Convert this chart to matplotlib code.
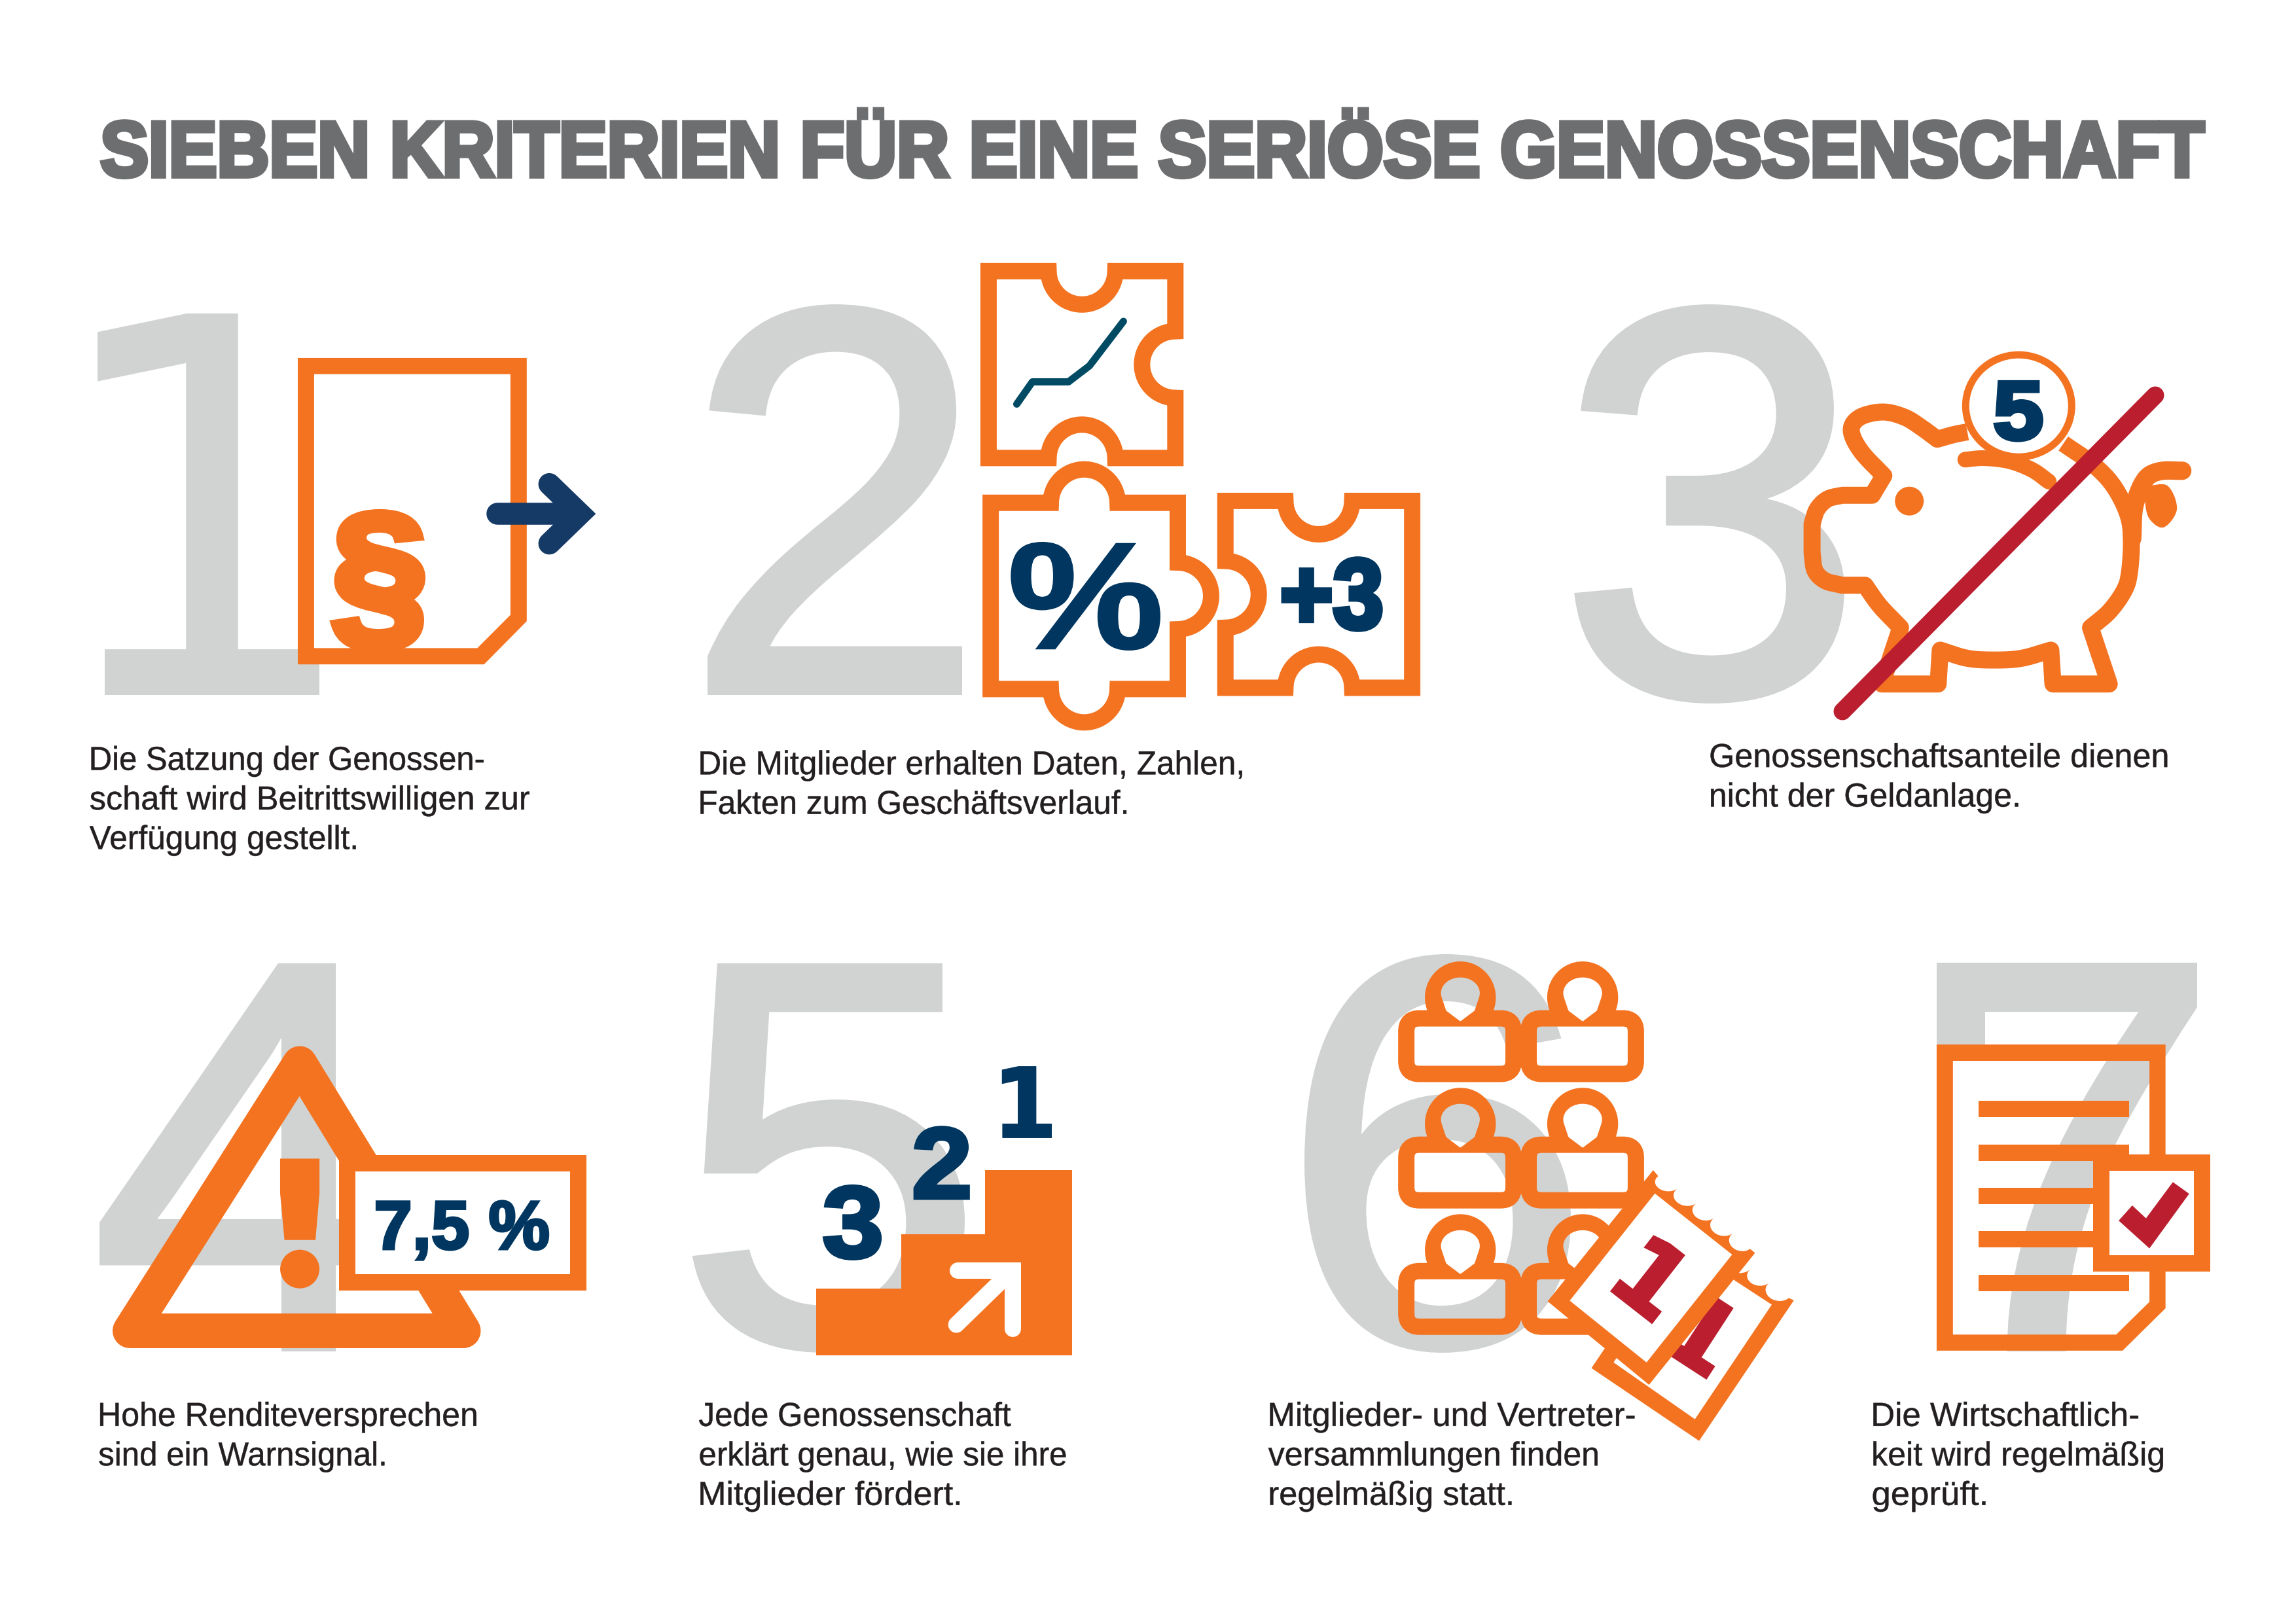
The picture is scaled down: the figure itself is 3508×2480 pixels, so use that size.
import numpy as np
import matplotlib
matplotlib.use("Agg")
import matplotlib.pyplot as plt
from matplotlib.font_manager import FontProperties
from matplotlib.textpath import TextPath
from matplotlib.path import Path
from matplotlib.patches import PathPatch, Polygon, Rectangle, Ellipse, FancyBboxPatch
from matplotlib.lines import Line2D
from matplotlib.transforms import Affine2D
from matplotlib.patheffects import AbstractPathEffect

W, H, DPI = 3508, 2480, 100
U = W / 1568.0
ORANGE = "#f47321"; GREY = "#d1d3d2"; NAVY = "#00365f"; ARROW = "#153a66"
RED = "#bb1f2f"; TITLEC = "#6d6e70"; BODY = "#231f20"; TEAL = "#004a63"

TITLE = "SIEBEN KRITERIEN FÜR EINE SERIÖSE GENOSSENSCHAFT"
CAP_X = [61, 477, 1167, 67, 477, 866, 1278]
CAPTIONS = [
    [("Die Satzung der Genossen-", 329, 526), ("schaft wird Beitrittswilligen zur", 361, 553), ("Verfügung gestellt.", 243, 580)],
    [("Die Mitglieder erhalten Daten, Zahlen,", 847, 529), ("Fakten zum Geschäftsverlauf.", 768, 556)],
    [("Genossenschaftsanteile dienen", 1479, 524), ("nicht der Geldanlage.", 1377, 551)],
    [("Hohe Renditeversprechen", 324, 974), ("sind ein Warnsignal.", 262, 1001)],
    [("Jede Genossenschaft", 690, 974), ("erklärt genau, wie sie ihre", 727, 1001), ("Mitglieder fördert.", 654, 1028)],
    [("Mitglieder- und Vertreter-", 1115, 974), ("versammlungen finden", 1091, 1001), ("regelmäßig statt.", 1031, 1028)],
    [("Die Wirtschaftlich-", 1459, 974), ("keit wird regelmäßig", 1476, 1001), ("geprüft.", 1355, 1028)],
]
DIGITS = ["1", "2", "3", "4", "5", "6", "7"]
DIGIT_BOX = [(149, 479, 488, 1062), (1081, 465, 1470, 1062), (2406, 465, 2818, 1075),
             (152, 1472, 596, 2065), (1059, 1472, 1474, 2067), (1993, 1458, 2400, 2067),
             (2959, 1471, 3357, 2065)]
DIGIT_WEIGHT = [4, 12, 12, 12, 12, 12, 12]

fig = plt.figure(figsize=(W / DPI, H / DPI), dpi=DPI, facecolor="white")
ax = fig.add_axes([0, 0, 1, 1])
ax.set_xlim(0, W); ax.set_ylim(H, 0); ax.axis("off")


class Fit(AbstractPathEffect):
    """Draws the text's outline stretched vertically and, if asked, thickened."""
    def __init__(self, sy=1.0, lw=0.0):
        super().__init__()
        self.sy, self.lw = sy, lw

    def draw_path(self, renderer, gc, tpath, affine, rgbFace=None):
        a = Affine2D().scale(1.0, self.sy) + affine
        g = renderer.new_gc(); g.copy_properties(gc)
        if self.lw > 0:
            g.set_foreground(rgbFace); g.set_linewidth(self.lw); g.set_joinstyle("miter")
        renderer.draw_path(g, tpath, a, rgbFace)
        g.restore()


def fp(family, weight="normal"):
    return FontProperties(family=family, weight=weight)


def put(x, y, s, family, weight, color, size_px, z, sx, lw):
    # nominal size follows the width, the path effect restores the height
    return ax.text(x, y, s, family=family, weight=weight, color=color,
                   fontsize=size_px * sx * 72 / DPI, ha="left", va="baseline", zorder=z,
                   path_effects=[Fit(1.0 / sx, lw * 72 / DPI)])


def fit(s, box, family="Liberation Sans", weight="normal", color=GREY, z=1, lw=0.0):
    x0, y0, x1, y1 = box
    x0 += lw / 2; x1 -= lw / 2; y0 += lw / 2; y1 -= lw / 2
    e = TextPath((0, 0), s, size=100, prop=fp(family, weight)).get_extents()
    px = (y1 - y0) / e.height
    sx = (x1 - x0) / (e.width * px)
    put(x0 - e.x0 * px * sx, y1 + e.y0 * px, s, family, weight, color, 100 * px, z, sx, lw)


def line(s, x0, x1, base, cap, family="Liberation Sans", weight="normal", color=BODY, z=5, lw=0.0):
    tp = fp(family, weight)
    h = TextPath((0, 0), "H", size=100, prop=tp).get_extents().height
    e = TextPath((0, 0), s, size=100, prop=tp).get_extents()
    px = (cap - lw) / h
    sx = (x1 - x0 - lw) / (e.width * px)
    bear = e.x0 * px * sx
    put(x0 + lw / 2 - bear + min(3.0, bear), base - lw / 2, s, family, weight, color, 100 * px, z, sx, lw)


def zm(x, y, w, h):
    sx, sy = 1568.0 / w, 1568.0 / h
    def f(pts):
        a = np.asarray(pts, float)
        return np.column_stack([x + a[..., 0] / sx, y + a[..., 1] / sy]) if a.ndim == 2 else np.array([x + a[0] / sx, y + a[1] / sy])
    return f


def pt(px):
    return px * 72.0 / DPI


def spline(p, n=14):
    p = np.asarray(p, float)
    if len(p) < 3:
        return p
    q = np.vstack([2 * p[0] - p[1], p, 2 * p[-1] - p[-2]])
    out = []
    for i in range(1, len(q) - 2):
        for t in np.linspace(0, 1, n, endpoint=False):
            a, b, c, d = q[i - 1], q[i], q[i + 1], q[i + 2]
            out.append(0.5 * ((2 * b) + (c - a) * t + (2 * a - 5 * b + 4 * c - d) * t ** 2 + (3 * b - a - 3 * c + d) * t ** 3))
    out.append(p[-1])
    return np.array(out)


def stroke(p, lw, color=ORANGE, z=3, join="miter", cap="butt"):
    p = np.asarray(p)
    ax.add_line(Line2D(p[:, 0], p[:, 1], color=color, lw=pt(lw), zorder=z, solid_joinstyle=join, solid_capstyle=cap))


def poly(p, color=ORANGE, z=3, edge=None, lw=0, join="miter"):
    ax.add_patch(Polygon(np.asarray(p), closed=True, facecolor=color, edgecolor=edge if edge else "none",
                         lw=pt(lw), zorder=z, joinstyle=join))


# ---------- title and captions
line(TITLE, 67 * U, 1505 * U, 122 * U, 40 * U, weight="bold", color=TITLEC, lw=7)
for x, rows in zip(CAP_X, CAPTIONS):
    for s, xr, b in rows:
        line(s, x * U, xr * U, b * U, 35.5, lw=0.5)

# ---------- big digits
for d, box, w in zip(DIGITS, DIGIT_BOX, DIGIT_WEIGHT):
    fit(d, box, family="DejaVu Sans" if d == "1" else "Liberation Sans", color=GREY, z=1, lw=w)
z4 = zm(2900, 1450, 550, 700)
a, b = z4([(168, 48), (378, 345)])
ax.add_patch(Rectangle(a, b[0] - a[0], b[1] - a[1], fc=GREY, ec="none", zorder=1))

# ---------- 1: document
z1 = zm(100, 380, 1150, 750)
poly(z1([(484, 349), (961, 349), (961, 1190), (872, 1328), (484, 1328), (484, 349),
         (518, 401), (518, 1276), (858, 1276), (927, 1170), (927, 401), (518, 401)]))
fit("§", (*z1((553, 832)), *z1((750, 1290))), weight="bold", color=ORANGE, z=3, lw=15)
stroke(z1([(900, 847), (1050, 847)]), 15 * U, color=ARROW, z=4, cap="round")
stroke(z1([(1008, 752), (1072, 847), (1008, 942)]), 15 * U, color=ARROW, z=4, join="miter", cap="round")

# ---------- 2: puzzle pieces
def semicircle(c, start, sweep, r):
    ang = np.radians(np.linspace(start, start + sweep, 40))
    return np.column_stack([c[0] + r * np.cos(ang), c[1] + r * np.sin(ang)])


def puzzle(x0, y0, x1, y1, top, right, bottom, left, r=51, lw=25):
    x0 += lw / 2; x1 -= lw / 2; y0 += lw / 2; y1 -= lw / 2
    mx, my = (x0 + x1) / 2, (y0 + y1) / 2
    P = [(x0, y0)]
    if top:
        P += list(semicircle((mx, y0), 180, 180 if top > 0 else -180, r))
    P.append((x1, y0))
    if right:
        P += list(semicircle((x1, my), -90, 180 if right > 0 else -180, r))
    P.append((x1, y1))
    if bottom:
        P += list(semicircle((mx, y1), 0, 180 if bottom > 0 else -180, r))
    P.append((x0, y1))
    if left:
        P += list(semicircle((x0, my), 90, 180 if left > 0 else -180, r))
    P = np.array(P)
    ax.add_patch(Polygon(P, closed=True, fill=False, edgecolor=ORANGE, lw=pt(lw), joinstyle="miter", zorder=3))


z5 = zm(1480, 390, 720, 740)
puzzle(*z5((39, 25)), *z5((715, 683)), -1, -1, -1, 0)
puzzle(*z5((46, 775)), *z5((723, 1431)), 1, 1, 1, 0)
puzzle(*z5((827, 769)), *z5((1503, 1427)), -1, 0, -1, -1)
stroke(z5([(160, 482), (212, 410), (332, 410), (402, 358), (515, 214)]), 11, color=TEAL, z=4, join="round", cap="round")
fit("%", (*z5((140, 928)), *z5((638, 1280))), weight="bold", color=NAVY, z=4, lw=3)
fit("+3", (*z5((1040, 975)), *z5((1378, 1220))), weight="bold", color=NAVY, z=4, lw=8)

# ---------- 3: piggy bank
z2 = zm(2400, 430, 1000, 700)
body_segments = [
    [(1180, 555), (1250, 625), (1300, 700), (1335, 800), (1343, 890), (1338, 1000), (1325, 1060), (1290, 1130), (1245, 1185)],
    [(1245, 1185), (1290, 1378)], [(1290, 1378), (1155, 1378)], [(1155, 1378), (1150, 1262)],
    [(1150, 1262), (1080, 1290), (1015, 1296), (950, 1290), (885, 1262)],
    [(885, 1262), (880, 1378)], [(880, 1378), (745, 1378)], [(745, 1378), (790, 1185)],
    [(790, 1185), (740, 1110), (705, 1040)], [(705, 1040), (650, 1040)],
    [(650, 1040), (610, 1025), (585, 990), (578, 930)], [(578, 930), (578, 830)],
    [(578, 830), (590, 780), (615, 745), (650, 732)], [(650, 732), (722, 732)], [(722, 732), (750, 665)],
    [(750, 665), (700, 590), (675, 530), (675, 490), (700, 460), (750, 447), (800, 465), (840, 500), (878, 540)],
    [(878, 540), (915, 525), (950, 515)],
]
stroke(np.vstack([spline(z2(s)) for s in body_segments]), 26, z=3, join="round", cap="butt")
stroke(spline(z2([(945, 610), (990, 605), (1050, 615), (1105, 645), (1145, 685)])), 24, z=3, cap="round")
stroke(spline(z2([(1345, 880), (1350, 770), (1375, 680), (1410, 650), (1465, 648)])), 28, z=3, join="round", cap="round")
poly(spline(z2([(1380, 700), (1430, 700), (1452, 780), (1420, 842), (1385, 810), (1375, 740), (1380, 700)])), z=3)
c = z2((811, 752))
ax.add_patch(Ellipse(c, 44, 44, fc=ORANGE, ec="none", zorder=3))
c = z2((1073, 426))
ax.add_patch(Ellipse(c, 162, 156, fc="white", ec=ORANGE, lw=pt(11), zorder=4))
fit("5", (*z2((1013, 338)), *z2((1132, 550))), weight="bold", color=NAVY, z=5, lw=7)
stroke(np.array([(2815, 1087), (3293, 604)]), 27, color=RED, z=6, cap="round")

# ---------- 4: warning sign
z6 = zm(130, 1450, 800, 650)
poly([(458, 1625), (198.5, 2033.5), (708, 2033.5)], color="none", edge=ORANGE, lw=53, join="round", z=2)
poly(z6([(584, 773), (702, 773), (702, 900), (690, 1073), (597, 1073), (584, 900)]), z=3)
c = z6((643, 1180))
ax.add_patch(Ellipse(c, 60, 59, fc=ORANGE, ec="none", zorder=3))
a, b = z6([(784, 790), (1475, 1228)])
ax.add_patch(Rectangle(a, b[0] - a[0], b[1] - a[1], fc="white", ec=ORANGE, lw=pt(25), joinstyle="miter", zorder=3))
fit("7,5 %", (*z6((870, 925)), *z6((1390, 1150))), weight="bold", color=NAVY, z=4, lw=4)

# ---------- 5: stairs
z7 = zm(1030, 1450, 650, 650)
poly(z7([(523, 1253), (837, 1253), (837, 1052), (1147, 1052), (1147, 815), (1466, 815), (1466, 1498), (523, 1498)]), z=3)
stroke(z7([(1045, 1185), (1247, 1185), (1247, 1400)]), 25, color="white", z=4, cap="round")
stroke(z7([(1040, 1385), (1225, 1205)]), 25, color="white", z=4, cap="round")
fit("1", (*z7((1208, 432)), *z7((1392, 697))), family="DejaVu Sans", weight="bold", color=NAVY, z=4, lw=3)
fit("2", (*z7((882, 652)), *z7((1090, 925))), weight="bold", color=NAVY, z=4, lw=6)
fit("3", (*z7((548, 868)), *z7((765, 1148))), weight="bold", color=NAVY, z=4, lw=6)

# ---------- 6: members and calendar
z3 = zm(1950, 1440, 1000, 800)
COLS = [0, 293]
ROWS = [0, 378.5, 757]


def person(dx, dy):
    t = np.radians(np.linspace(200, -20, 50))
    outer = z3(np.column_stack([441 + dx + 85 * np.cos(t), 165 + dy - 108 * np.sin(t)]))
    t2 = np.radians(np.linspace(-15, 195, 40))
    inner = [(441 + dx + 46.5 * np.cos(a), 152 + dy - 47 * np.sin(a)) for a in t2]
    inner += [(407 + dx, 205 + dy), (441 + dx, 237 + dy), (475 + dx, 205 + dy)]
    inner = z3(inner)
    o = np.vstack([z3([(362 + dx, 235 + dy)]), outer, z3([(520 + dx, 235 + dy)])])
    v = np.vstack([o, o[:1], inner, inner[:1]])
    codes = [Path.MOVETO] + [Path.LINETO] * (len(o) - 1) + [Path.CLOSEPOLY] + [Path.MOVETO] + [Path.LINETO] * (len(inner) - 1) + [Path.CLOSEPOLY]
    ax.add_patch(PathPatch(Path(v, codes), fc=ORANGE, ec="none", zorder=3))
    a, b = z3([(311.5 + dx, 227.5 + dy), (568.5 + dx, 394 + dy)])
    band = FancyBboxPatch(a, b[0] - a[0], b[1] - a[1], boxstyle="round,pad=0,rounding_size=20",
                          fill=False, ec=ORANGE, lw=pt(25), zorder=3)
    ax.add_patch(band)
    # the head's pointed opening cuts through the top of the shoulder band
    canvas = np.array([(0, 0), (W, 0), (W, H), (0, H)], float)
    cv = np.vstack([canvas, canvas[:1], inner, inner[:1]])
    cc = [Path.MOVETO] + [Path.LINETO] * 3 + [Path.CLOSEPOLY] + [Path.MOVETO] + [Path.LINETO] * (len(inner) - 1) + [Path.CLOSEPOLY]
    band.set_clip_path(Path(cv, cc), ax.transData)


for dy in ROWS:
    for dx in COLS:
        person(dx, dy)


def bites(spikes, inward):
    sp = z3(spikes)
    out = []
    n = np.array(inward) / np.hypot(*inward)
    for p, q in zip(sp[:-1], sp[1:]):
        m = (p + q) / 2; r = np.hypot(*(q - p)) / 2 * 0.92
        for t in np.linspace(0, np.pi, 14):
            out.append(m + (p - m) * np.cos(t) + n * r * np.sin(t))
    return np.array(out)


inward_back = z3((985, 1000)) - z3((1080, 900))
back_edge = bites([(1080, 935), (1135, 980), (1180, 1020), (1228, 1065)], inward_back)
poly(np.vstack([z3([(755, 1275), (1013, 1493), (1240, 1072)]), back_edge[::-1], z3([(985, 850)])]), z=5)
poly(z3([(808, 1258), (1003, 1428), (1187, 1085), (985, 920)]), color="white", z=5)
ax.text(*z3((1010, 1190)), "1", family="DejaVu Sans", weight="bold", color=RED, fontsize=pt(150), rotation=-33,
        ha="center", va="center", rotation_mode="anchor", zorder=5, path_effects=[Fit(1.0, pt(5))])

inward_front = z3((850, 900)) - z3((1000, 760))
front_edge = bites([(915, 700), (960, 738), (1005, 782), (1048, 826), (1093, 872), (1135, 918)], inward_front)
poly(np.vstack([z3([(650, 1075), (893, 1325), (1147, 930)]), front_edge[::-1], z3([(903, 682)])]), z=6)
poly(z3([(703, 1073), (887, 1258), (1092, 935), (907, 752)]), color="white", z=6)
ax.text(*z3((888, 1022)), "1", family="DejaVu Sans", weight="bold", color=RED, fontsize=pt(150), rotation=-38,
        ha="center", va="center", rotation_mode="anchor", zorder=7, path_effects=[Fit(1.0, pt(5))])

# ---------- 7: audited report
poly(z4([(168, 327), (1165, 327), (1165, 1230), (978, 1375), (168, 1375), (168, 327),
         (239, 383), (239, 1320), (950, 1320), (1095, 1208), (1095, 383), (239, 383)]), z=3)
for yc in [548, 697, 846, 994, 1144]:
    a, b = z4([(351, yc - 28), (1007, yc + 28)])
    ax.add_patch(Rectangle(a, b[0] - a[0], b[1] - a[1], fc=ORANGE, ec="none", zorder=3))
a, b = z4([(882.5, 731), (1322.5, 1076)])
ax.add_patch(Rectangle(a, b[0] - a[0], b[1] - a[1], fc="white", ec=ORANGE, lw=pt(25), joinstyle="miter", zorder=4))
poly(z4([(961, 930), (1020, 878), (1080, 922), (1197, 798), (1268, 838), (1095, 1025)]), color=RED, z=5)

fig.savefig("out.png", dpi=DPI, facecolor="white")
